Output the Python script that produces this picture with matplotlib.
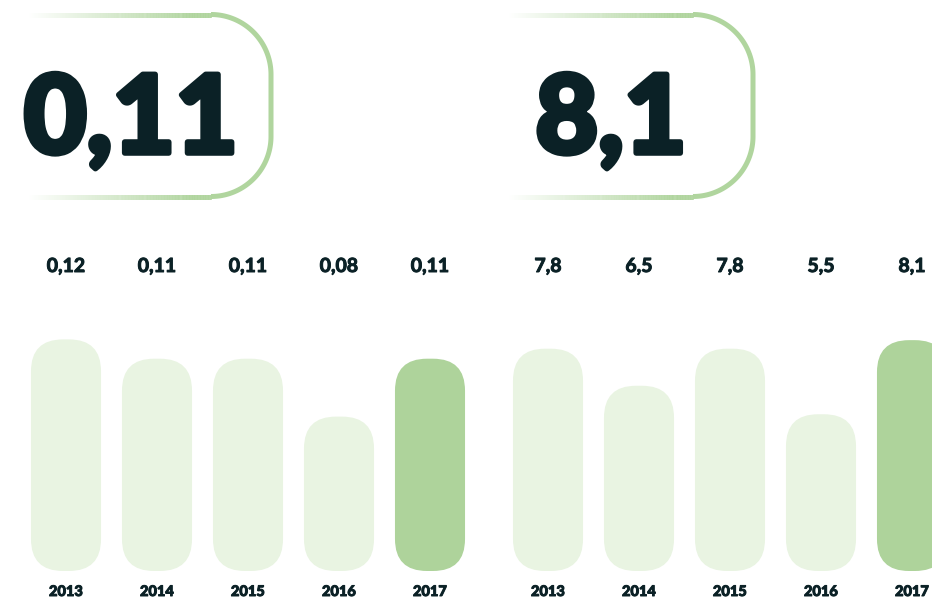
import numpy as np
import matplotlib
matplotlib.use("Agg")
import matplotlib.pyplot as plt
import matplotlib.patheffects as pe
from matplotlib.patches import FancyBboxPatch
from matplotlib.collections import LineCollection
from matplotlib.colors import to_rgb

# ---------------- data ----------------
years = ["2013", "2014", "2015", "2016", "2017"]
left_values = [0.12, 0.11, 0.11, 0.08, 0.11]
left_labels = ["0,12", "0,11", "0,11", "0,08", "0,11"]
right_values = [7.8, 6.5, 7.8, 5.5, 8.1]
right_labels = ["7,8", "6,5", "7,8", "5,5", "8,1"]
left_headline = "0,11"
right_headline = "8,1"
highlight_index = 4

# ---------------- style ----------------
W, H = 932, 600
TEXT = "#0B2126"
LIGHT = "#E9F4E2"
DARK = "#AED39B"
LINE = "#B0D59E"
FONT = ["Lato", "DejaVu Sans"]

fig = plt.figure(figsize=(W / 100, H / 100), dpi=100)
fig.patch.set_facecolor("white")

# overlay axes in pixel coordinates (y downward) for headline boxes
ov = fig.add_axes([0, 0, 1, 1])
ov.set_xlim(0, W)
ov.set_ylim(H, 0)
ov.axis("off")


def headline_box(xs, xr, yt, yb, r):
    lw = 5.0 * 72 / 100
    green = np.array(to_rgb(LINE))
    white = np.ones(3)
    xe = xr - r
    n = 300
    xx = np.linspace(xs, xe, n + 1)
    t = np.clip((xx[:-1] - xs) / (xe - 20 - xs), 0, 1)[:, None]
    cols = white * (1 - t) + green * t
    for y in (yt, yb):
        segs = [[(xx[k], y), (min(xx[k + 1] + 0.6, xe), y)] for k in range(n)]
        ov.add_collection(LineCollection(segs, colors=cols, linewidths=lw,
                                         capstyle="butt"))
    th1 = np.linspace(-np.pi / 2, 0, 60)
    th2 = np.linspace(0, np.pi / 2, 60)
    px = np.concatenate([xe + r * np.cos(th1), xe + r * np.cos(th2)])
    py = np.concatenate([yt + r + r * np.sin(th1), yb - r + r * np.sin(th2)])
    ov.plot(px, py, color=LINE, lw=lw, solid_capstyle="butt",
            solid_joinstyle="round")


headline_box(28, 271, 14.5, 196.5, 60)
headline_box(508, 753, 14.5, 196.5, 60)

heavy = [pe.withStroke(linewidth=4, foreground=TEXT)]
ov.text(131, 153, left_headline, ha="center", va="baseline", fontsize=78,
        fontweight="black", family=FONT, color=TEXT, path_effects=heavy)
ov.text(611, 153, right_headline, ha="center", va="baseline", fontsize=78,
        fontweight="black", family=FONT, color=TEXT, path_effects=heavy)


def panel(x0, x1, first_center, values, labels, px_per_unit):
    ybot, ytop = 571, 321
    ax = fig.add_axes([x0 / W, (H - ybot) / H, (x1 - x0) / W, (ybot - ytop) / H])
    step = 91
    ax.set_xlim((x0 - first_center) / step, (x1 - first_center) / step)
    ax.set_ylim(0, (ybot - ytop) / px_per_unit)
    ax.axis("off")
    x = np.arange(len(values))
    colors = [DARK if i == highlight_index else LIGHT for i in x]
    bars = ax.bar(x, values, width=0.77, color=colors)
    p0 = ax.transData.transform((0, 0))
    p1 = ax.transData.transform((1, 1))
    ppx, ppy = p1[0] - p0[0], p1[1] - p0[1]
    R = 32
    for b, c in zip(bars, colors):
        b.set_visible(False)
        fp = FancyBboxPatch((b.get_x(), b.get_y()), b.get_width(), b.get_height(),
                            boxstyle=f"round,pad=0,rounding_size={R / ppx}",
                            mutation_aspect=ppx / ppy, facecolor=c,
                            edgecolor="none", clip_on=False)
        ax.add_patch(fp)
    lab_fx = [pe.withStroke(linewidth=0.7, foreground=TEXT)]
    for i, (lab, yr) in enumerate(zip(labels, years)):
        ax.annotate(lab, xy=(i, H - 272), xycoords=("data", "figure pixels"),
                    ha="center", va="baseline", fontsize=14, fontweight="bold",
                    family=FONT, color=TEXT, annotation_clip=False,
                    path_effects=lab_fx)
        ax.annotate(yr, xy=(i, 4), xycoords=("data", "figure pixels"),
                    ha="center", va="baseline", fontsize=10.5, fontweight="black",
                    family=FONT, color=TEXT, annotation_clip=False,
                    path_effects=lab_fx)
    return ax


panel(2, 480, 66, left_values, left_labels, 1930)
panel(484, 932, 548, right_values, right_labels, 28.5)

fig.savefig("out.png", dpi=100, facecolor="white")
